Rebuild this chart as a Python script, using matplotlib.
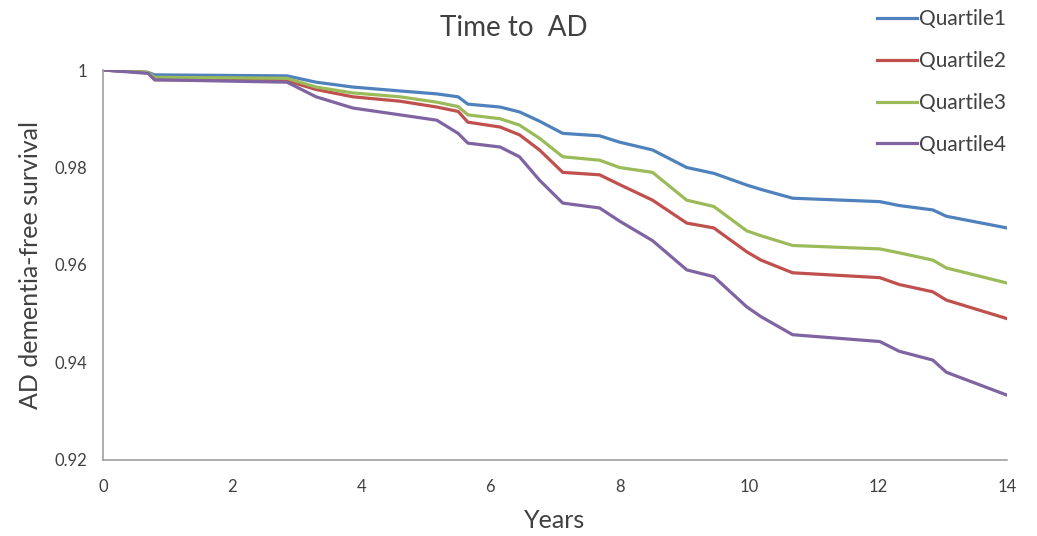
import matplotlib
matplotlib.use("Agg")
import matplotlib.pyplot as plt

plt.rcParams['font.family'] = ['Lato', 'DejaVu Sans']

# Data
years = [0, 0.7, 0.8, 2.85, 3.3, 3.87, 4.6, 5.17, 5.5, 5.65, 6.15, 6.45, 6.76,
         7.12, 7.69, 8.0, 8.51, 9.04, 9.46, 9.97, 10.19, 10.68, 12.03, 12.33,
         12.85, 13.06, 14]
quartile1 = [1.0, 0.9995, 0.999, 0.9988, 0.9975, 0.9965, 0.9957, 0.9951, 0.9945,
             0.993, 0.9924, 0.9914, 0.9895, 0.987, 0.9865, 0.9852, 0.9836, 0.980,
             0.9788, 0.9764, 0.9755, 0.9737, 0.973, 0.9722, 0.9713, 0.970, 0.9676]
quartile2 = [1.0, 0.9995, 0.998, 0.9978, 0.996, 0.9945, 0.9936, 0.9924, 0.9915,
             0.9893, 0.9883, 0.9867, 0.9836, 0.979, 0.9785, 0.9765, 0.9733, 0.9686,
             0.9676, 0.9627, 0.961, 0.9584, 0.9574, 0.956, 0.9545, 0.9528, 0.949]
quartile3 = [1.0, 0.9995, 0.9985, 0.9983, 0.9965, 0.9953, 0.9945, 0.9934, 0.9925,
             0.9908, 0.99, 0.9887, 0.986, 0.9822, 0.9815, 0.980, 0.979, 0.9733,
             0.972, 0.967, 0.966, 0.964, 0.9633, 0.9625, 0.961, 0.9594, 0.9563]
quartile4 = [1.0, 0.9993, 0.998, 0.9975, 0.9945, 0.9922, 0.9908, 0.9897, 0.987,
             0.985, 0.9842, 0.9822, 0.9774, 0.9727, 0.9717, 0.969, 0.965, 0.959,
             0.9576, 0.9514, 0.9494, 0.9457, 0.9443, 0.9423, 0.9405, 0.938, 0.9333]

series = [("Quartile1", quartile1, "#4F81BD"),
          ("Quartile2", quartile2, "#C0504D"),
          ("Quartile3", quartile3, "#9BBB59"),
          ("Quartile4", quartile4, "#8064A2")]

xticks = [0, 2, 4, 6, 8, 10, 12, 14]
yticks = [0.92, 0.94, 0.96, 0.98, 1.0]
ytick_labels = ["0.92", "0.94", "0.96", "0.98", "1"]

text_col = "#404040"

fig = plt.figure(figsize=(10.37, 5.36), dpi=100)
ax = fig.add_axes([0.0993, 0.1418, 0.8718, 0.7276])

for name, vals, col in series:
    ax.plot(years, vals, color=col, lw=2.3, label=name, solid_joinstyle='round')

ax.set_xlim(0, 14)
ax.set_ylim(0.92, 1.0)
ax.set_xticks(xticks)
ax.set_xticklabels([str(t) for t in xticks])
ax.set_yticks(yticks)
ax.set_yticklabels(ytick_labels)
ax.tick_params(length=0, labelsize=12, colors=text_col)
ax.tick_params(axis='x', pad=14)
ax.tick_params(axis='y', pad=11)

for s in ['top', 'right']:
    ax.spines[s].set_visible(False)
for s in ['left', 'bottom']:
    ax.spines[s].set_color("#a0a0a0")
    ax.spines[s].set_linewidth(1.2)

ax.set_xlabel("Years", fontsize=18, color=text_col, labelpad=10)
ax.set_ylabel("AD dementia-free survival", fontsize=18, color=text_col, labelpad=9)
fig.text(0.495, 0.948, "Time to  AD", ha='center', va='center', fontsize=20,
         color=text_col)

leg = fig.legend(loc='upper left', bbox_to_anchor=(0.828, 1.018), frameon=False,
                 fontsize=15, handlelength=1.9, handletextpad=0.1,
                 labelspacing=1.05)
for t in leg.get_texts():
    t.set_color(text_col)

fig.savefig("out.png", dpi=100)
